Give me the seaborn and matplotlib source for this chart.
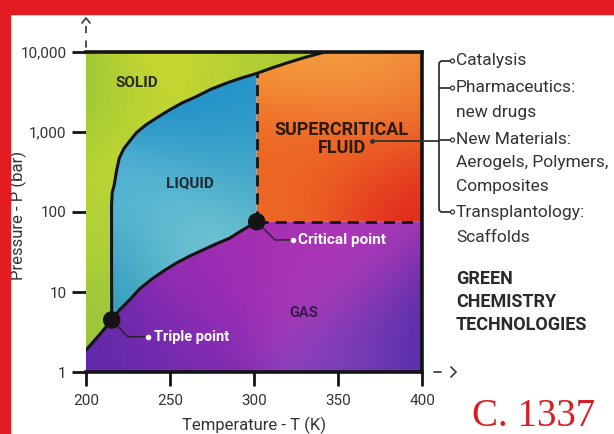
import numpy as np
import pandas as pd
import seaborn as sns
import matplotlib.pyplot as plt
from matplotlib.colors import to_rgb
from matplotlib.patches import Rectangle, Circle

sns.set_style("white")
plt.rcParams['font.family'] = ['Roboto', 'DejaVu Sans']

# phase boundaries (T in K, P in bar)
sub_T = [200, 207.9, 215.3]
sub_P = [1.88, 2.9, 4.47]
melt_T = [215.3, 215.2, 215.2, 215.6, 216.8, 218.2, 219.8, 222.5, 225.8, 230.0, 235.7,
          242.0, 249.6, 257.0, 265.5, 274.0, 283.3, 292.0, 301.6, 310.0, 319.0, 329.0,
          338.9, 342.0]
melt_P = [4.47, 40, 120, 175, 218, 330, 470, 620, 760, 980, 1230,
          1500, 1880, 2300, 2760, 3400, 4060, 4700, 5400, 6250, 7230, 8400,
          9590, 10000]
vap_T = [215.3, 220.0, 225.8, 232.0, 239.7, 246.5, 253.6, 261.5, 269.5, 277.5, 285.3,
         293.5, 301.6]
vap_P = [4.47, 6.0, 7.9, 11.0, 14.8, 18.5, 22.9, 28.0, 33.5, 40.0, 46.9,
         60.0, 75.6]
triple = (215.3, 4.47)
critical = (301.6, 75.6)

x_ticks = [200, 250, 300, 350, 400]
y_ticks = [1, 10, 100, 1000, 10000]
y_tick_labels = ["1", "10", "100", "1,000", "10,000"]

uses = ["Catalysis", "Pharmaceutics:", "new drugs", "New Materials:",
        "Aerogels, Polymers,", "Composites", "Transplantology:", "Scaffolds"]
uses_y = [61, 88, 112, 140, 163, 187, 212, 237]
branch_y = [61, 88, 140, 212]

# colour anchors for the painted gradients (axes fraction u, v)
solid_col = [(0.0, 0.9, '#7cbd3c'), (0.22, 1.0, '#e9e22c'), (0.38, 0.98, '#a6cb36'),
             (0.04, 0.45, '#b2d236'), (0.0, 0.15, '#9cc63a'), (0.12, 0.75, '#c9d930')]
liquid_col = [(0.25, 0.85, '#1e8ec6'), (0.45, 0.82, '#2796cc'), (0.18, 0.55, '#5db9d6'),
              (0.32, 0.38, '#86d2d8'), (0.12, 0.3, '#2a98bc'), (0.46, 0.6, '#49aac6')]
super_col = [(0.66, 1.0, '#f39636'), (0.82, 0.97, '#f6ab52'), (0.58, 0.62, '#ec6a24'),
             (0.96, 0.55, '#e0281e'), (0.96, 0.85, '#ee7426'), (0.75, 0.7, '#ee5c22')]
gas_col = [(0.05, 0.08, '#5628a8'), (0.3, 0.28, '#9a2cb4'), (0.55, 0.45, '#a42eb2'),
           (0.75, 0.3, '#b03ab8'), (0.97, 0.08, '#3c22a0'), (0.85, 0.05, '#8a48c0'),
           (0.2, 0.05, '#7a2cb0')]


def painted(anchors, s=0.2, n=240):
    u, v = np.meshgrid(np.linspace(0, 1, n), np.linspace(0, 1, n))
    num = np.zeros((n, n, 3))
    den = np.zeros((n, n))
    for cu, cv, c in anchors:
        w = np.exp(-((u - cu) ** 2 + (v - cv) ** 2) / s ** 2)
        num += w[..., None] * np.array(to_rgb(c))
        den += w
    return num / den[..., None]


fig = plt.figure(figsize=(6.14, 4.34), dpi=100)
fig.patches.append(Rectangle((0, 1 - 14 / 434), 1, 14 / 434, transform=fig.transFigure,
                             color='#e31b23', zorder=0))
fig.patches.append(Rectangle((0, 0), 10 / 614, 1, transform=fig.transFigure,
                             color='#e31b23', zorder=0))

ax = fig.add_axes([86 / 614, 62 / 434, 336 / 614, 320 / 434])
ax.set_yscale('log')
ax.set_xlim(200, 400)
ax.set_ylim(1, 10000)
ax.set_autoscale_on(False)

i_c = melt_T.index(critical[0])
regions = {
    'solid': (sub_T + melt_T[1:] + [200], sub_P + melt_P[1:] + [10000], solid_col),
    'liquid': (melt_T[:i_c + 1] + vap_T[::-1], melt_P[:i_c + 1] + vap_P[::-1], liquid_col),
    'super': ([critical[0], 400, 400] + melt_T[i_c:][::-1],
              [critical[1], critical[1], 10000] + melt_P[i_c:][::-1], super_col),
    'gas': ([200, 400, 400] + vap_T[::-1] + sub_T[::-1][1:],
            [1, 1, critical[1]] + vap_P[::-1] + sub_P[::-1][1:], gas_col),
}
for name, (T, P, cols) in regions.items():
    poly = ax.fill(T, P, facecolor='none', edgecolor='none')[0]
    im = ax.imshow(painted(cols), extent=[0, 1, 0, 1], transform=ax.transAxes,
                   origin='lower', interpolation='bilinear', aspect='auto', zorder=1)
    im.set_clip_path(poly)

lc = '#141414'
for T, P in [(sub_T, sub_P), (melt_T, melt_P), (vap_T, vap_P)]:
    sns.lineplot(x=T, y=P, sort=False, estimator=None, color=lc, linewidth=2.2,
                 solid_joinstyle='round', solid_capstyle='round', ax=ax, zorder=4)
crit_up = melt_P[i_c]
ax.plot([critical[0], critical[0]], [critical[1], crit_up], color=lc, lw=2,
        dashes=(4, 2.5), zorder=4)
ax.plot([critical[0], 400], [critical[1], critical[1]], color=lc, lw=2,
        dashes=(4, 2.5), zorder=4)

pts = pd.DataFrame({'T': [triple[0], critical[0]], 'P': [triple[1], critical[1]]})
sns.scatterplot(data=pts, x='T', y='P', s=160, color=lc, edgecolor='none', ax=ax, zorder=6)

# callouts
ax.plot([critical[0], 312.5, 321.4], [critical[1], 44.7, 44.7], color='#222', lw=1, zorder=5)
ax.plot([323.4], [44.7], 'o', ms=3, color='white', zorder=5)
ax.text(326.4, 44.7, "Critical point", color='white', fontsize=11, fontweight='bold',
        va='center', ha='left', zorder=6)
ax.plot([triple[0], 224.8, 235.0], [triple[1], 2.76, 2.76], color='#222', lw=1, zorder=5)
ax.plot([237.1], [2.76], 'o', ms=3, color='white', zorder=5)
ax.text(240.7, 2.76, "Triple point", color='white', fontsize=10.5, fontweight='bold',
        va='center', ha='left', zorder=6)

ax.text(230.2, 4070, "SOLID", fontsize=11, fontweight='bold', color='#2a2a2a',
        ha='center', va='center', zorder=6)
ax.text(261.9, 229, "LIQUID", fontsize=11, fontweight='bold', color='#1f2a30',
        ha='center', va='center', zorder=6)
ax.text(352.2, 820, "SUPERCRITICAL\nFLUID", fontsize=13, fontweight='bold',
        color='#2a1a10', ha='center', va='center', linespacing=1.05, zorder=6)
ax.text(329.4, 5.5, "GAS", fontsize=10.5, fontweight='bold', color='#3a1a4a',
        ha='center', va='center', zorder=6)

ax.set_xticks(x_ticks)
ax.set_yticks(y_ticks)
ax.set_yticklabels(y_tick_labels)
ax.minorticks_off()
ax.tick_params(axis='both', direction='out', length=10, width=2, color=lc,
               labelsize=11, labelcolor='#333333', left=True, bottom=True)
ax.tick_params(axis='y', pad=4)
ax.tick_params(axis='x', pad=6)
for side in ['top', 'right', 'bottom']:
    ax.spines[side].set_linewidth(2.6)
    ax.spines[side].set_color(lc)
    ax.spines[side].set_zorder(7)
ax.spines['left'].set_visible(False)

ax.set_xlabel("Temperature - T (K)", fontsize=12, color='#333333', va='top')
ax.xaxis.set_label_coords(0.5, -(417 - 372) / 320)
ax.set_ylabel("Pressure - P (bar)", fontsize=12, color='#333333', va='center')
ax.yaxis.set_label_coords(-(86 - 18) / 336, 0.49)

# decorations in pixel space
over = fig.add_axes([0, 0, 1, 1], zorder=10)
over.set_xlim(0, 614)
over.set_ylim(434, 0)
over.axis('off')
over.patch.set_alpha(0)

dc = '#444444'
over.plot([86, 86], [26, 50], color=dc, lw=1.3, dashes=(4, 4))
over.plot([82, 86, 90], [23, 18, 23], color=dc, lw=1.3)
over.plot([434, 441], [372, 372], color=dc, lw=1.3)
over.plot([451, 456, 451], [367, 372, 377], color=dc, lw=1.3)

bc = '#333333'
over.plot([450, 441, 439, 439, 441, 450],
          [branch_y[0], branch_y[0], branch_y[0] + 2, branch_y[-1] - 2, branch_y[-1], branch_y[-1]],
          color=bc, lw=1.3)
for by in branch_y[1:3]:
    over.plot([439, 450], [by, by], color=bc, lw=1.3)
over.plot([372, 439], [141, 141], color=bc, lw=1.3)
over.plot([372], [141], 'o', ms=2.5, color=bc)
for by in branch_y:
    over.add_patch(Circle((452.5, by), 2, facecolor='white', edgecolor=bc, lw=0.9))

for label, y in zip(uses, uses_y):
    over.text(456, y, label, fontsize=12.5, color='#333333', ha='left', va='center')
for label, y in zip(["GREEN", "CHEMISTRY", "TECHNOLOGIES"], [279, 302, 325]):
    over.text(456, y, label, fontsize=13, fontweight='bold', color='#2a2a2a',
              ha='left', va='center')

over.text(472, 426, "C. 1337", fontsize=28, color='#d81e24', ha='left', va='baseline',
          family=['Liberation Serif', 'DejaVu Serif'])

fig.savefig('out.png', dpi=100)
